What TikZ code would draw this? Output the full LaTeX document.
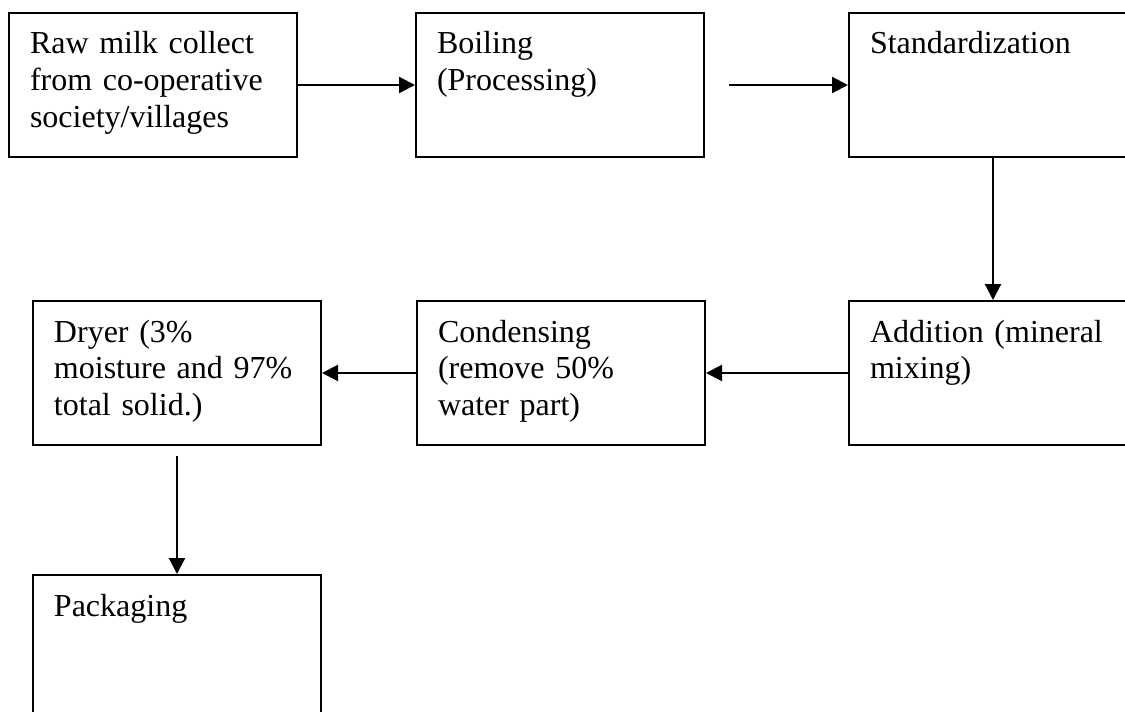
\documentclass[tikz,border=0pt]{standalone}
\usepackage{fontspec}
\setmainfont{Liberation Serif}[WordSpace=0.75]
\usetikzlibrary{arrows.meta,calc}

\begin{document}
\begin{tikzpicture}[x=0.5pt,y=-0.5pt,
  stage/.style={draw,line width=1pt,rectangle,anchor=north west,
    text width=123pt,align=left,inner xsep=10.5pt,inner ysep=0pt,
    text height=20.5pt,text depth=51.5pt,
    font=\fontsize{16}{18.4}\selectfont},
  flow/.style={-{Triangle[length=8pt,width=8pt]},line width=1.1pt}]
\useasboundingbox (0,0) rectangle (1125,712);
\node[stage] (raw) at (8,12) {Raw milk collect\\from co-operative\\society/villages};
\node[stage] (boil) at (415,12) {Boiling\\(Processing)};
\node[stage] (std) at (848,12) {Standardization};
\node[stage] (add) at (848,300) {Addition (mineral\\mixing)};
\node[stage] (cond) at (416,300) {Condensing\\(remove 50\%\\water part)};
\node[stage] (dry) at (32,300) {Dryer (3\%\\moisture and 97\%\\total solid.)};
\node[stage] (pack) at (32,574) {Packaging};
\coordinate (boilout) at ($(boil.east)+(12pt,0)$);
\coordinate (dryout) at ($(dry.south)+(0,-5pt)$);
\draw[flow] (raw.east) -- (boil.west);
\draw[flow] (boilout) -- (std.west);
\draw[flow] (std.south) -- (add.north);
\draw[flow] (add.west) -- (cond.east);
\draw[flow] (cond.west) -- (dry.east);
\draw[flow] (dryout) -- (pack.north);
\end{tikzpicture}
\end{document}
